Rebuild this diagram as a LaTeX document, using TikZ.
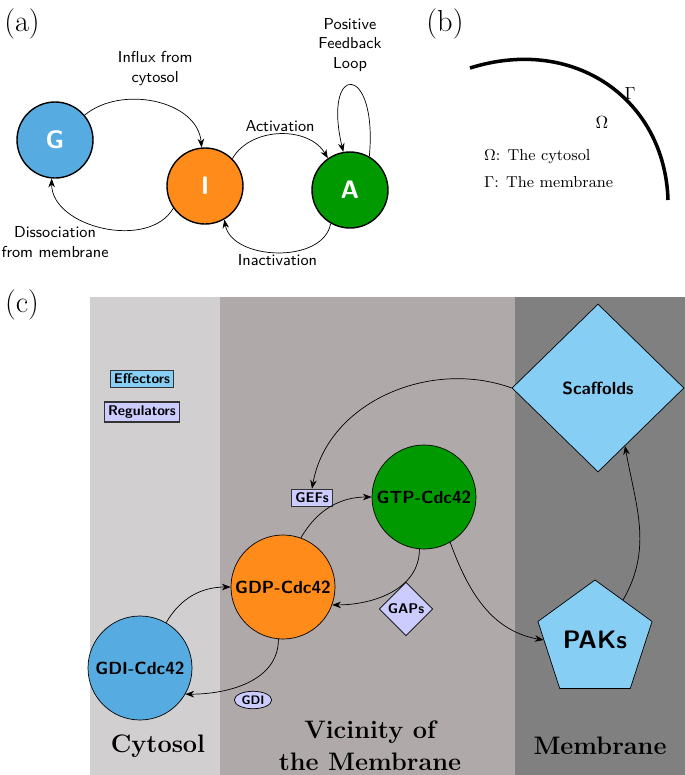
\documentclass[tikz,border=0pt]{standalone}
\usepackage{amsmath}
\usetikzlibrary{shapes.geometric,arrows.meta}
\definecolor{gblue}{HTML}{56ACE0}
\definecolor{iorange}{HTML}{FF8C1A}
\definecolor{agreen}{HTML}{009900}
\definecolor{effcol}{HTML}{87CEF5}
\definecolor{regcol}{HTML}{CCCCFF}
\definecolor{bandA}{HTML}{D1CFCF}
\definecolor{bandB}{HTML}{AFAAA9}
\definecolor{bandC}{HTML}{808080}
\tikzset{
  state/.style={circle, draw=black, thick, minimum size=76*0.02cm, inner sep=0pt,
    text=white, font=\sffamily\bfseries\Large},
  species/.style={circle, draw=black, minimum size=104*0.02cm, inner sep=0pt,
    font=\sffamily\bfseries},
  regbox/.style={draw=black!80, thick, inner sep=2pt, font=\sffamily\bfseries\footnotesize},
  flow/.style={-{Stealth[length=5pt]}, thin},
  lbl/.style={font=\sffamily\small, align=center},
  panel/.style={font=\LARGE},
  band/.style={font=\bfseries\Large, align=center}
}
\begin{document}
\begin{tikzpicture}[x=0.02cm, y=-0.02cm]
\useasboundingbox (0,0) rectangle (685,775);
% (a)
\node[panel] (pa) at (22,24) {(a)};
\node[state, fill=gblue] (G) at (55,140) {G};
\node[state, fill=iorange] (I) at (205,186) {I};
\node[state, fill=agreen] (A) at (350,190) {A};
\draw[flow] (G.40) to[out=40, in=95] node[lbl, above, pos=0.5, yshift=6pt] {Influx from\\cytosol} (I.95);
\draw[flow] (I.45) to[out=60, in=120] node[lbl, above, yshift=-2pt] {Activation} (A.125);
\coordinate (lp1) at (378,62);
\coordinate (lp2) at (322,62);
\draw[flow] (A.60) .. controls (lp1) and (lp2) .. (A.100);
\node[lbl] (pfl) at (350,45) {Positive\\Feedback\\Loop};
\draw[flow] (A.240) to[out=-100, in=-80] node[lbl, below, yshift=2pt] {Inactivation} (I.300);
\draw[flow] (I.215) to[out=-120, in=-90] (G.265);
\node[lbl] (dfm) at (55,242) {Dissociation\\from membrane};
% (b)
\node[panel] (pb) at (445,24) {(b)};
\coordinate (m0) at (470,68);
\coordinate (m1) at (668,200);
\draw[line width=2pt] (m0) .. controls (575,35) and (665,100) .. (m1);
\node (gam) at (630,93) {$\Gamma$};
\node (omg) at (602,122) {$\Omega$};
\node[anchor=west] (cyt) at (478,157) {\small$\Omega$: The cytosol};
\node[anchor=west] (mem) at (478,182) {\small$\Gamma$: The membrane};
% (c)
\node[panel] (pc) at (22,305) {(c)};
\fill[bandA] (90,297) rectangle (220,775);
\fill[bandB] (220,297) rectangle (515,775);
\fill[bandC] (515,297) rectangle (685,775);
\node[band] (cy) at (158,746) {Cytosol};
\node[band] (vm) at (370,746) {Vicinity of\\the Membrane};
\node[band] (mb) at (600,746) {Membrane};
\node[regbox, fill=effcol] (eff) at (142,379) {Effectors};
\node[regbox, fill=regcol] (reg) at (142,412) {Regulators};
\node[diamond, draw=black, fill=effcol, minimum width=172*0.02cm, minimum height=168*0.02cm,
  inner sep=0pt, font=\sffamily\bfseries] (scf) at (598,388) {Scaffolds};
\node[regular polygon, regular polygon sides=5, draw=black, fill=effcol, minimum size=120*0.02cm,
  inner sep=0pt, font=\sffamily\bfseries\Large] (pak) at (595,640) {PAKs};
\node[species, fill=agreen] (gtp) at (424,497) {GTP-Cdc42};
\node[species, fill=iorange] (gdp) at (283,587) {GDP-Cdc42};
\node[species, fill=gblue] (gdi) at (140,668) {GDI-Cdc42};
\node[regbox, fill=regcol] (gef) at (312,498) {GEFs};
\node[diamond, draw=black, fill=regcol, inner sep=1pt, font=\sffamily\bfseries\footnotesize] (gap) at (406,609) {GAPs};
\node[ellipse, draw=black, fill=regcol, inner sep=1pt, font=\sffamily\bfseries\scriptsize] (gdr) at (253,700) {GDI};
\draw[flow] (gdi.60) to[out=60, in=180] (gdp.west);
\draw[flow] (gdp.70) to[out=60, in=180] (gtp.west);
\draw[flow] (gtp.265) to[out=-90, in=0] (gdp.-20);
\draw[flow] (gdp.265) to[out=-90, in=0] (gdi.-30);
\draw[flow] (gtp.300) to[out=-70, in=170] (pak.west);
\draw[flow] (pak.55) to[out=60, in=-80] (scf.-65);
\draw[flow] (scf.west) to[out=160, in=80] (gef.north);
\end{tikzpicture}
\end{document}
